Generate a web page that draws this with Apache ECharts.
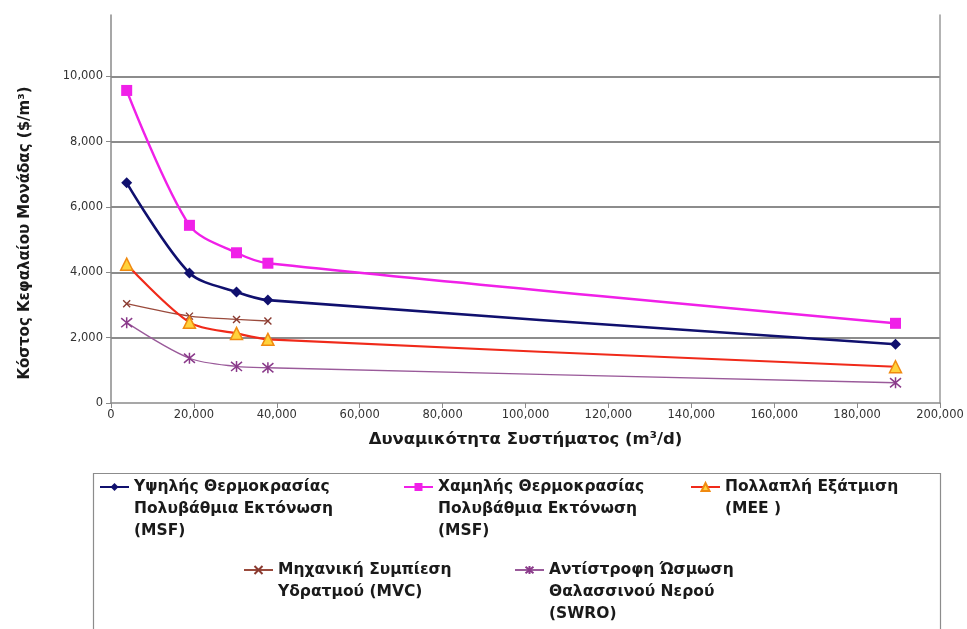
<!DOCTYPE html>
<html>
<head>
<meta charset="utf-8">
<script src="https://cdn.jsdelivr.net/npm/echarts@6/dist/echarts.min.js"></script>
<style>
  html, body { margin: 0; padding: 0; background: #fff; }
  #chart { width: 967px; height: 629px; }
</style>
</head>
<body>
<div id="chart"></div>
<script>
// Plant capacity (m3/d) for each cost estimate
const capacity = [3785, 18927, 30283, 37854, 189270];
const capacityMVC = [3785, 18927, 30283, 37854];

// Unit capital cost ($/m3) per technology
const msfHigh = [6740, 3980, 3400, 3150, 1800];
const msfLow = [9570, 5440, 4600, 4280, 2440];
const mee = [4250, 2470, 2130, 1950, 1110];
const mvc = [3040, 2660, 2560, 2510];
const swro = [2460, 1370, 1120, 1080, 620];

const yTicks = [0, 2000, 4000, 6000, 8000, 10000];
const xTicks = [0, 20000, 40000, 60000, 80000, 100000, 120000, 140000, 160000, 180000, 200000];

const seriesNames = [
  'Υψηλής Θερμοκρασίας\nΠολυβάθμια Εκτόνωση\n(MSF)',
  'Χαμηλής Θερμοκρασίας\nΠολυβάθμια Εκτόνωση\n(MSF)',
  'Πολλαπλή Εξάτμιση\n(MEE )',
  'Μηχανική Συμπίεση\nΥδρατμού (MVC)',
  'Αντίστροφη Ώσμωση\nΘαλασσινού Νερού\n(SWRO)'
];

const pair = (xs, ys) => xs.map((x, i) => [x, ys[i]]);
const fmt = v => v.toLocaleString('en-US');

const crossPath = 'path://M0,0L10,10M10,0L0,10';
const starPath = 'path://M0,0L10,10M10,0L0,10M5,-1L5,11';

const titleFont = '"DejaVu Sans", "Noto Sans", sans-serif';

// One legend block per series so each can sit at its own spot in the box.
// Leading blank lines keep the first text line level with the icon.
function legendBlock(name, left, lineY) {
  const n = name.split('\n').length;
  return {
    data: [name],
    left: left,
    top: lineY - (22 * n - 11),
    padding: 0,
    itemWidth: 29,
    itemHeight: 10,
    itemGap: 0,
    selectedMode: false,
    formatter: nm => '\n'.repeat(nm.split('\n').length - 1) + nm,
    textStyle: {
      fontFamily: titleFont,
      fontWeight: 'bold',
      fontSize: 15.5,
      color: '#1a1a1a',
      lineHeight: 22
    }
  };
}

const chart = echarts.init(document.getElementById('chart'));
chart.setOption({
  animation: false,
  backgroundColor: '#fff',
  grid: { left: 111, right: 27, top: 15, bottom: 226 },
  xAxis: {
    type: 'value',
    min: 0, max: 200000, interval: 20000,
    name: 'Δυναμικότητα Συστήματος (m³/d)',
    nameLocation: 'middle',
    nameGap: 28,
    nameTextStyle: { fontFamily: titleFont, fontWeight: 'bold', fontSize: 16.5, color: '#1a1a1a' },
    axisLine: { show: true, lineStyle: { color: '#8a8a8a', width: 1.5 } },
    axisTick: { show: true, length: 5, lineStyle: { color: '#8a8a8a' } },
    axisLabel: {
      customValues: xTicks,
      formatter: fmt,
      fontFamily: '"DejaVu Sans", sans-serif',
      fontSize: 11.5, color: '#333', margin: 6
    },
    splitLine: { show: false }
  },
  yAxis: [{
    type: 'value',
    min: 0, max: 11880, interval: 2000,
    name: 'Κόστος Κεφαλαίου Μονάδας ($/m³)',
    nameLocation: 'middle',
    nameGap: 78,
    nameTextStyle: { fontFamily: titleFont, fontWeight: 'bold', fontSize: 15, color: '#1a1a1a', padding: [0, 48, 0, 0] },
    axisLine: { show: true, lineStyle: { color: '#8a8a8a', width: 1.5 } },
    axisTick: { show: true, length: 5, customValues: yTicks, lineStyle: { color: '#8a8a8a' } },
    axisLabel: {
      customValues: yTicks,
      formatter: fmt,
      fontFamily: '"DejaVu Sans", sans-serif',
      fontSize: 11.5, color: '#333', margin: 8
    },
    splitLine: { show: true, showMinLine: false, lineStyle: { color: '#666', width: 1.6 } }
  }, {
    type: 'value',
    position: 'right',
    min: 0, max: 11880,
    axisLine: { show: true, lineStyle: { color: '#9a9a9a', width: 1.5 } },
    axisTick: { show: false },
    axisLabel: { show: false },
    splitLine: { show: false }
  }],
  legend: [
    legendBlock(seriesNames[0], 99, 487),
    legendBlock(seriesNames[1], 403, 487),
    legendBlock(seriesNames[2], 690, 487),
    legendBlock(seriesNames[3], 243, 570),
    legendBlock(seriesNames[4], 514, 570)
  ],
  graphic: [{
    type: 'rect',
    shape: { x: 93.5, y: 473.5, width: 847, height: 200 },
    style: { fill: 'none', stroke: '#8c8c8c', lineWidth: 1.2 },
    silent: true,
    z: -1
  }],
  series: [
    {
      name: seriesNames[0], type: 'line', smooth: 0.3,
      data: pair(capacity, msfHigh),
      symbol: 'diamond', symbolSize: 11,
      lineStyle: { color: '#10106e', width: 2.6 },
      itemStyle: { color: '#10106e' },
      z: 4
    },
    {
      name: seriesNames[1], type: 'line', smooth: 0.3,
      data: pair(capacity, msfLow),
      symbol: 'rect', symbolSize: 11,
      lineStyle: { color: '#f020e8', width: 2.4 },
      itemStyle: { color: '#f020e8' },
      z: 4
    },
    {
      name: seriesNames[2], type: 'line', smooth: 0.3,
      data: pair(capacity, mee),
      symbol: 'triangle', symbolSize: 12,
      lineStyle: { color: '#f02a1a', width: 2.2 },
      itemStyle: { color: '#ffd23c', borderColor: '#f08a10', borderWidth: 1.5 },
      z: 3
    },
    {
      name: seriesNames[3], type: 'line', smooth: 0.3,
      data: pair(capacityMVC, mvc),
      symbol: crossPath, symbolSize: 7,
      lineStyle: { color: '#9a4a3c', width: 1.3 },
      itemStyle: { color: '#8a3a30', borderColor: '#8a3a30', borderWidth: 1.4 },
      z: 2
    },
    {
      name: seriesNames[4], type: 'line', smooth: 0.3,
      data: pair(capacity, swro),
      symbol: starPath, symbolSize: 11,
      lineStyle: { color: '#9a5a9a', width: 1.3 },
      itemStyle: { color: '#8a3a8a', borderColor: '#8a3a8a', borderWidth: 1.5 },
      z: 2
    }
  ]
});
</script>
</body>
</html>
